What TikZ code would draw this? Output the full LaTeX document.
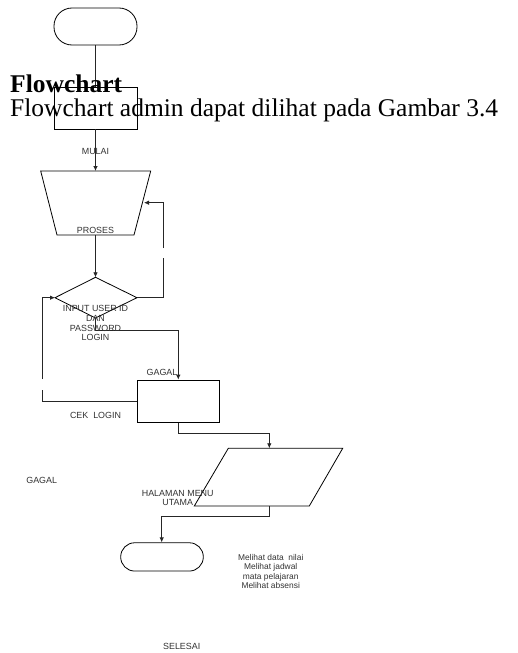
\documentclass[tikz,border=0pt]{standalone}
\usepackage{fontspec}
\setmainfont{Liberation Serif}
\newfontfamily\labfont{Liberation Sans}
\usetikzlibrary{arrows.meta}
\begin{document}
\begin{tikzpicture}[x=1pt,y=-1pt,
  shp/.style={draw=black,line width=0.8pt},
  con/.style={draw=black!85,line width=0.8pt},
  arr/.style={con,-{Latex[length=5pt,width=4.5pt]}},
  lab/.style={font=\labfont\fontsize{8.9}{9.6}\selectfont,text=black!80,inner sep=0pt,align=center},
  sml/.style={font=\labfont\fontsize{8.4}{9.6}\selectfont,text=black!80,inner sep=0pt,align=center},
  term/.style={shp,rectangle,rounded corners=14pt,inner sep=0pt},
  boxx/.style={shp,rectangle,inner sep=0pt}]
\useasboundingbox (0,0) rectangle (518,653);
\fill[white] (0,0) rectangle (518,653);

% shapes
\node[term,rounded corners=18pt,minimum width=83pt,minimum height=37pt] (start) at (95.5,26.5) {};
\node[boxx,minimum width=83pt,minimum height=42pt] (box1) at (95.5,108) {};
\draw[shp] (40.7,171) -- (150.7,171) -- (134,235) -- (57,235) -- cycle;
\coordinate (trapT) at (95.5,171);
\coordinate (trapB) at (95.5,235);
\coordinate (trapR) at (144,202.7);
\draw[shp] (95.5,277.3) -- (137,297.7) -- (95.5,318) -- (55,297.7) -- cycle;
\coordinate (diaT) at (95.5,277.3);
\coordinate (diaR) at (137,297.7);
\coordinate (diaB) at (95.5,318);
\coordinate (diaL) at (55,297.7);
\node[boxx,minimum width=82.3pt,minimum height=42.7pt] (cek) at (178.1,401.4) {};
\draw[shp] (228.3,448.3) -- (342.7,448.3) -- (309.3,506) -- (194.3,506) -- cycle;
\coordinate (parT) at (269.3,448.3);
\coordinate (parB) at (269.3,506);
\node[term,minimum width=82.6pt,minimum height=28.3pt] (stop) at (162,556.9) {};

% connectors
\draw[con] (start.south) -- (box1.north);
\draw[arr] (box1.south) -- (trapT);
\draw[arr] (trapB) -- (diaT);
\draw[arr] (diaR) -- (163,297.7) -- (163,258) (163,248) -- (163,202.7) -- (trapR);
\draw[arr] (diaB) -- (95.5,330) -- (178.3,330) -- (cek.north -| 178.3,0);
\draw[arr] (cek.west) -- (42.3,401.4) -- (42.3,390) (42.3,379) -- (42.3,297.7) -- (diaL);
\draw[arr] (cek.south -| 178.3,0) -- (178.3,433.3) -- (269.3,433.3) -- (parT);
\draw[arr] (parB) -- (269.3,516.7) -- (161.7,516.7) -- (stop.north -| 161.7,0);

% title text
\node[anchor=base west,inner sep=0pt,font=\fontsize{25.5}{30}\selectfont\bfseries] (ttl) at (10,92) {Flowchart};
\node[anchor=base west,inner sep=0pt,font=\fontsize{25.5}{30}\selectfont] (sub) at (10,116.5) {Flowchart admin dapat dilihat pada Gambar 3.4};

% labels
\node[lab] (l1) at (95.5,151) {MULAI};
\node[lab] (l2) at (95.5,230) {PROSES};
\node[lab] (l3) at (95.5,323.3) {INPUT USER ID\\DAN\\PASSWORD\\LOGIN};
\node[lab] (l4) at (162,372) {GAGAL};
\node[lab] (l5) at (95.5,415) {CEK\ \ LOGIN};
\node[lab] (l6) at (41.7,480.7) {GAGAL};
\node[lab] (l7) at (177.7,498) {HALAMAN MENU\\UTAMA};
\node[sml] (l8) at (270.7,571.5) {Melihat data\ \ nilai\\Melihat jadwal\\mata pelajaran\\Melihat absensi};
\node[lab] (l9) at (181.7,646.7) {SELESAI};
\end{tikzpicture}
\end{document}
